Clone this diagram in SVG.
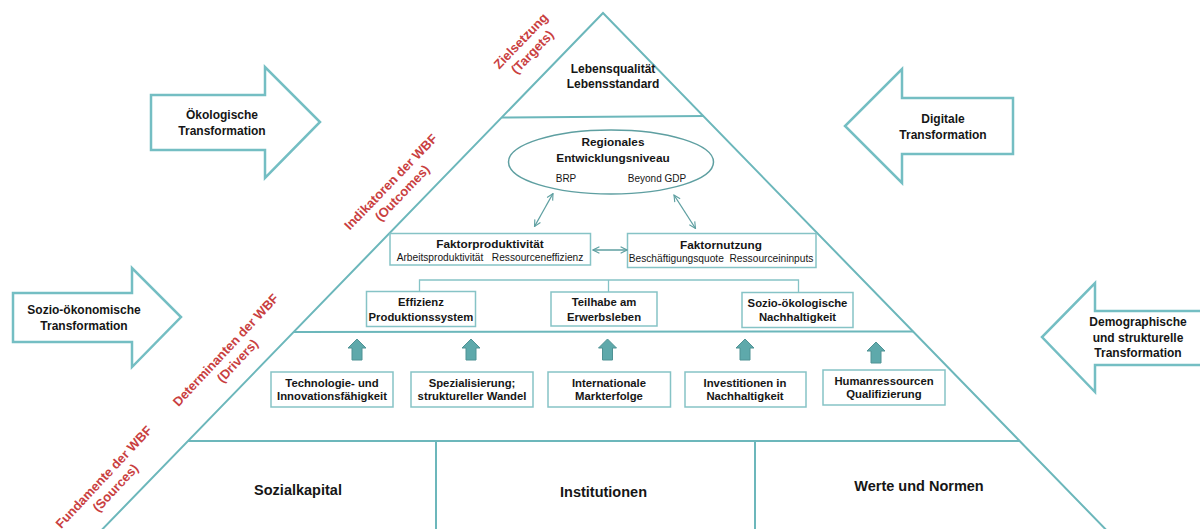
<svg xmlns="http://www.w3.org/2000/svg" width="1200" height="529" viewBox="0 0 1200 529">
<defs>
<style>
.t{font-family:"Liberation Sans",Arial,sans-serif;fill:#161616;text-anchor:middle}
.b{font-weight:bold}
.s12{font-size:12px}
.s11{font-size:11.3px}
.s115{font-size:11.8px}
.s10{font-size:10px}
.s9{font-size:10.2px}
.s14{font-size:14.5px}
.red{font-family:"Liberation Sans",Arial,sans-serif;font-weight:bold;font-size:13px;fill:#c9403f;text-anchor:middle}
.big{fill:#fff;stroke:#74bec3;stroke-width:2.5;stroke-linejoin:miter}
.pyr{fill:none;stroke:#6cb7bb;stroke-width:2}
.box{fill:#fff;stroke:#86c3c6;stroke-width:1.5}
.conn{fill:none;stroke:#5e9fa1;stroke-width:1.3}
.up{fill:#5ea9ab;stroke:#4f9294;stroke-width:1}
</style>
<marker id="ah" viewBox="0 0 10 10" refX="9" refY="5" markerWidth="8" markerHeight="8" orient="auto-start-reverse" markerUnits="userSpaceOnUse">
<path d="M1,1 L9,5 L1,9" fill="none" stroke="#5e9fa1" stroke-width="1.4"/>
</marker>
<path id="uparrow" d="M0,0 L9,9 L5,9 L5,21 L-5,21 L-5,9 L-9,9 Z"/>
</defs>

<g id="pyramid">
<polyline class="pyr" points="91,541 603,13 1117,541"/>
<line class="pyr" x1="502" y1="117.5" x2="704" y2="116"/>
<line class="pyr" x1="294" y1="332" x2="913" y2="331.5"/>
<line class="pyr" x1="188" y1="441" x2="1020" y2="441"/>
<line class="pyr" x1="436" y1="441" x2="436" y2="529"/>
<line class="pyr" x1="755" y1="441" x2="755" y2="529"/>
</g>

<g id="label-targets">
<text class="red" transform="translate(524,44) rotate(-46)"><tspan x="0" y="0">Zielsetzung</tspan><tspan x="0" y="16">(Targets)</tspan></text>
</g>
<g id="label-outcomes">
<text class="red" transform="translate(394,185) rotate(-46)"><tspan x="0" y="0">Indikatoren  der WBF</tspan><tspan x="0" y="16">(Outcomes)</tspan></text>
</g>
<g id="label-drivers">
<text class="red" transform="translate(229,353) rotate(-47)"><tspan x="0" y="0">Determinanten  der WBF</tspan><tspan x="0" y="16">(Drivers)</tspan></text>
</g>
<g id="label-sources">
<text class="red" transform="translate(107,480) rotate(-47)"><tspan x="0" y="0">Fundamente  der WBF</tspan><tspan x="0" y="16">(Sources)</tspan></text>
</g>

<g id="arrow-oekologisch">
<path class="big" d="M151,95 L265,95 L265,67 L320,122 L265,178 L265,150 L151,150 Z"/>
<text class="t b s12"><tspan x="222" y="119">Ökologische</tspan><tspan x="222" y="135">Transformation</tspan></text>
</g>
<g id="arrow-digital">
<path class="big" d="M1013,98 L902,98 L902,69 L845,126 L902,183 L902,154 L1013,154 Z"/>
<text class="t b s12"><tspan x="943" y="123">Digitale</tspan><tspan x="943" y="139">Transformation</tspan></text>
</g>
<g id="arrow-sozio">
<path class="big" d="M13,293 L132,293 L132,268 L181,317 L132,367 L132,342 L13,342 Z"/>
<text class="t b s12"><tspan x="84" y="314">Sozio-ökonomische</tspan><tspan x="84" y="330">Transformation</tspan></text>
</g>
<g id="arrow-demographisch">
<path class="big" d="M1205,311 L1095,311 L1095,283 L1042,337 L1095,392 L1095,365 L1205,365"/>
<text class="t b s12"><tspan x="1138" y="326">Demographische</tspan><tspan x="1138" y="342">und strukturelle</tspan><tspan x="1138" y="357">Transformation</tspan></text>
</g>

<g id="node-lebensqualitaet">
<text class="t b s12"><tspan x="613" y="72.5">Lebensqualität</tspan><tspan x="613" y="87.5">Lebensstandard</tspan></text>
</g>

<g id="node-regionales">
<ellipse cx="611" cy="162" rx="102.5" ry="32" fill="#fff" stroke="#5e9fa1" stroke-width="1.5"/>
<text class="t b s115"><tspan x="613" y="146">Regionales</tspan><tspan x="613" y="161.5">Entwicklungsniveau</tspan></text>
<text class="t s10" x="566" y="182" fill="#333">BRP</text>
<text class="t s10" x="657" y="182" fill="#333">Beyond GDP</text>
</g>

<g id="node-faktorproduktivitaet">
<rect class="box" x="390" y="233.5" width="200.5" height="31.5"/>
<text class="t b s115" x="490" y="247.5">Faktorproduktivität</text>
<text class="t s9" x="490" y="261" fill="#333" xml:space="preserve">Arbeitsproduktivität   Ressourceneffizienz</text>
</g>

<g id="node-faktornutzung">
<rect class="box" x="627.5" y="233.5" width="188.5" height="34"/>
<text class="t b s115" x="721" y="249">Faktornutzung</text>
<text class="t s9" x="721" y="261.5" fill="#333" xml:space="preserve">Beschäftigungsquote  Ressourceininputs</text>
</g>

<g id="connectors">
<line class="conn" x1="553" y1="193.5" x2="534.5" y2="226.5" marker-start="url(#ah)" marker-end="url(#ah)"/>
<line class="conn" x1="674" y1="195" x2="695.5" y2="228.5" marker-start="url(#ah)" marker-end="url(#ah)"/>
<line class="conn" x1="593" y1="250" x2="627" y2="250" marker-start="url(#ah)" marker-end="url(#ah)"/>
<polyline fill="none" stroke="#86c3c6" stroke-width="1.3" points="419.5,292 419.5,280 798.5,280 798.5,292"/>
<line stroke="#86c3c6" stroke-width="1.3" x1="608.5" y1="280" x2="608.5" y2="292"/>
<use href="#uparrow" class="up" x="357" y="339"/>
<use href="#uparrow" class="up" x="471" y="339"/>
<use href="#uparrow" class="up" x="607.5" y="339"/>
<use href="#uparrow" class="up" x="745" y="339"/>
<use href="#uparrow" class="up" x="876" y="342"/>
</g>

<g id="node-effizienz">
<rect class="box" x="366.5" y="291.5" width="109" height="35"/>
<text class="t b s11"><tspan x="421" y="306">Effizienz</tspan><tspan x="421" y="320.5">Produktionssystem</tspan></text>
</g>
<g id="node-teilhabe">
<rect class="box" x="551" y="292" width="106" height="34"/>
<text class="t b s11"><tspan x="604" y="306">Teilhabe am</tspan><tspan x="604" y="320.5">Erwerbsleben</tspan></text>
</g>
<g id="node-sozio-oeko">
<rect class="box" x="742" y="292.5" width="111" height="35"/>
<text class="t b s11"><tspan x="797.5" y="307">Sozio-ökologische</tspan><tspan x="797.5" y="321">Nachhaltigkeit</tspan></text>
</g>

<g id="node-technologie">
<rect class="box" x="271" y="372" width="122" height="35"/>
<text class="t b s11"><tspan x="332" y="387">Technologie- und</tspan><tspan x="332" y="400">Innovationsfähigkeit</tspan></text>
</g>
<g id="node-spezialisierung">
<rect class="box" x="411" y="372" width="122" height="35"/>
<text class="t b s11"><tspan x="472" y="387">Spezialisierung;</tspan><tspan x="472" y="400">struktureller Wandel</tspan></text>
</g>
<g id="node-international">
<rect class="box" x="548" y="372" width="122.5" height="35"/>
<text class="t b s11"><tspan x="609" y="387">Internationale</tspan><tspan x="609" y="400">Markterfolge</tspan></text>
</g>
<g id="node-investitionen">
<rect class="box" x="685" y="372" width="121" height="35"/>
<text class="t b s11"><tspan x="745" y="387">Investitionen in</tspan><tspan x="745" y="400">Nachhaltigkeit</tspan></text>
</g>
<g id="node-humanressourcen">
<rect class="box" x="823" y="370" width="122" height="35"/>
<text class="t b s11"><tspan x="884" y="385">Humanressourcen</tspan><tspan x="884" y="398">Qualifizierung</tspan></text>
</g>

<g id="node-sozialkapital">
<text class="t b s14" x="298" y="495">Sozialkapital</text>
</g>
<g id="node-institutionen">
<text class="t b s14" x="603.5" y="497">Institutionen</text>
</g>
<g id="node-werte">
<text class="t b s14" x="919" y="491">Werte und Normen</text>
</g>
</svg>
